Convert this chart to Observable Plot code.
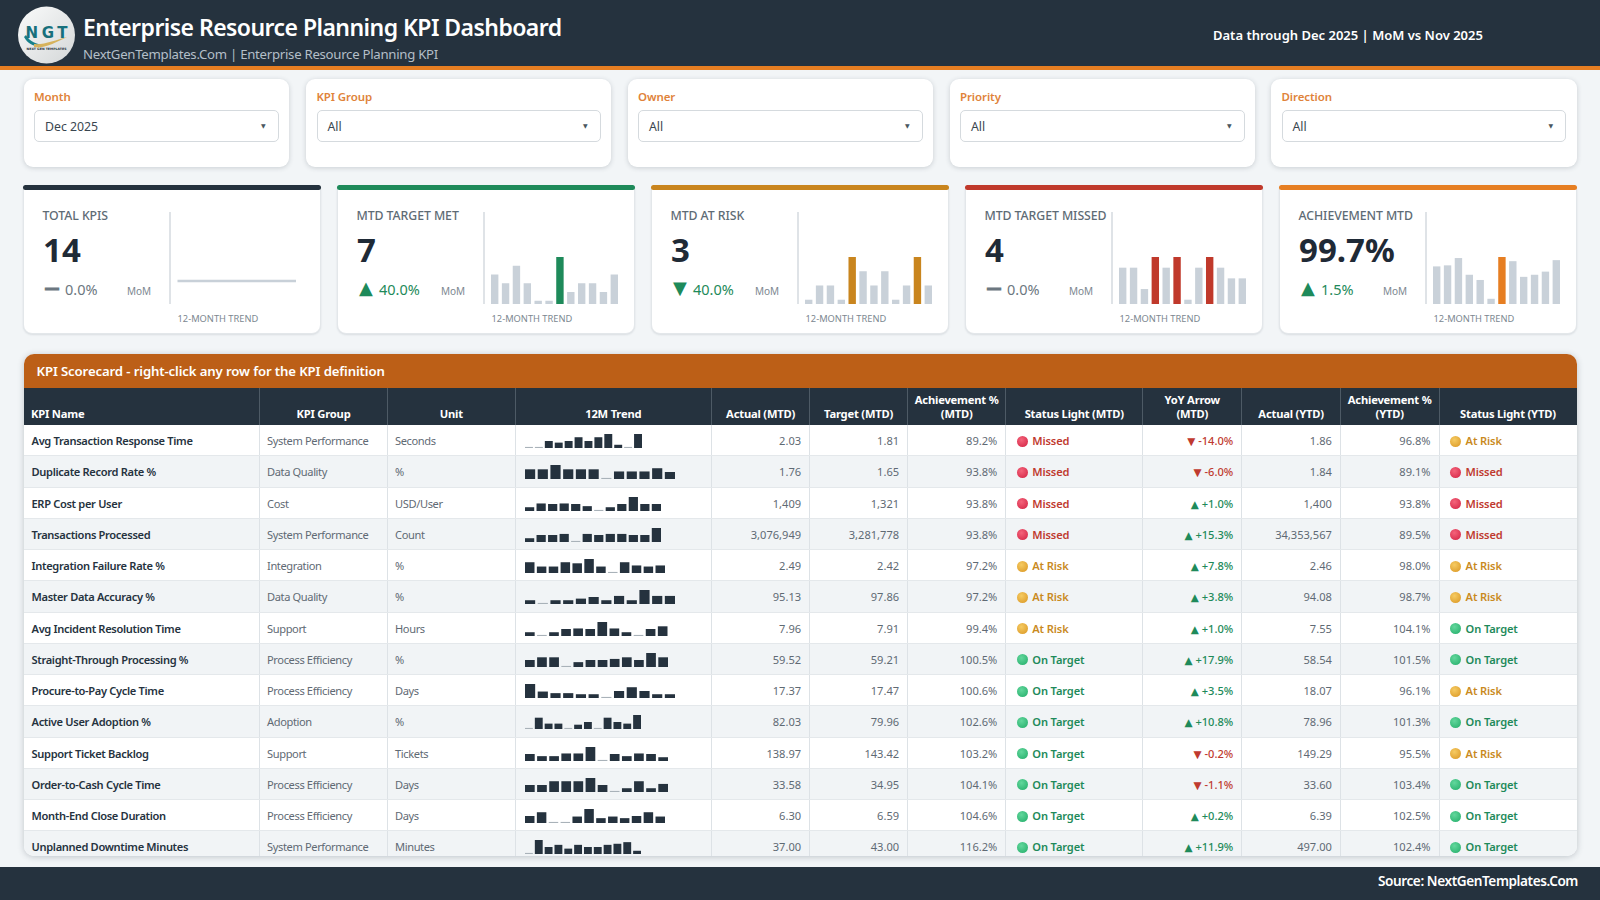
<!DOCTYPE html>
<html lang="en">
<head>
<meta charset="utf-8">
<title>Enterprise Resource Planning KPI Dashboard</title>
<script src="https://cdn.jsdelivr.net/npm/d3@7"></script>
<script src="https://cdn.jsdelivr.net/npm/@observablehq/plot@0.6"></script>
<style>
  * { box-sizing: border-box; }
  html, body { margin: 0; width: 1600px; height: 900px; overflow: hidden; background: #f2f5f7; font-family: "Noto Sans", "DejaVu Sans", sans-serif; color: #25323e; }
  .abs { position: absolute; }
  #header { left: 0; top: 0; width: 1600px; height: 70px; background: #25323e; border-bottom: 4px solid #e67e22; }
  #title { left: 83px; top: 10px; font-size: 23px; letter-spacing: -0.55px; font-weight: 600; color: #fff; white-space: nowrap; line-height: 34px; }
  #subtitle { left: 83px; top: 43.5px; font-size: 13.2px; letter-spacing: -0.27px; color: #b4bfc8; white-space: nowrap; line-height: 20px; }
  #through { left: 1213px; top: 25px; font-size: 13px; font-weight: 600; color: #fff; white-space: nowrap; line-height: 20px; }
  .filter { top: 78.5px; height: 88.5px; background: #fff; border-radius: 9px; box-shadow: 0 1px 5px rgba(40,55,70,.2); }
  .filter .lab { position: absolute; left: 10.5px; top: 10px; font-size: 11.5px; letter-spacing: -0.1px; font-weight: 600; color: #e0833a; line-height: 16px; }
  .filter .sel { position: absolute; left: 10.5px; right: 10.5px; top: 31.5px; height: 32px; border: 1.5px solid #d5dade; border-radius: 5px; font-size: 12.3px; color: #3a4650; line-height: 32px; padding-left: 10px; }
  .filter .sel i { position: absolute; right: 12px; top: 0; font-style: normal; font-size: 6px; color: #4a5660; line-height: 30px; }
  .card { top: 185px; width: 298.4px; height: 149px; background: #fff; border: 1px solid #e3e7ea; border-radius: 5px 5px 9px 9px; box-shadow: 0 1px 2px rgba(40,55,70,.12); }
  .card .bar { position: absolute; left: -1px; right: -1px; top: -1px; height: 5px; border-radius: 3px; }
  .card .lab { position: absolute; left: 18.5px; top: 21px; font-size: 12.3px; letter-spacing: -0.07px; font-weight: 500; color: #5e6b75; line-height: 18px; white-space: nowrap; }
  .card .val { position: absolute; left: 19px; top: 42px; font-size: 33px; font-weight: 700; color: #1f2a36; line-height: 44px; white-space: nowrap; }
  .card .gly { position: absolute; left: 19px; top: 90px; width: 18px; text-align: center; line-height: 24px; font-family: "DejaVu Sans"; }
  .card .dl { position: absolute; left: 41px; top: 91px; font-size: 14.5px; line-height: 24px; white-space: nowrap; }
  .card .mom { position: absolute; left: 103px; top: 97px; font-size: 10px; color: #7c8790; line-height: 16px; }
  .card .div { position: absolute; left: 145px; top: 26px; width: 1.5px; height: 92px; background: #dfe3e7; }
  .card .tr { position: absolute; left: 153.5px; top: 126px; font-size: 9.3px; color: #7c8790; line-height: 14px; white-space: nowrap; }
  .card .ch { position: absolute; left: 152.8px; top: 71px; }
  #tbl { left: 24px; top: 354px; width: 1552.6px; height: 502px; background: #fff; border-radius: 10px; overflow: hidden; box-shadow: 0 1px 6px rgba(40,55,70,.25); }
  #band { position: absolute; left: 0; top: 0; width: 100%; height: 33.5px; background: #bc5f17; color: #fff; font-size: 13.2px; letter-spacing: -0.13px; font-weight: 600; line-height: 34px; padding-left: 12.5px; }
  #thead { position: absolute; left: 0; top: 33.5px; height: 37.5px; display: flex; background: #25323e; width: 100%; }
  #thead div { flex: none; border-right: 1px solid #4d5a65; color: #fff; font-size: 11.2px; letter-spacing: -0.2px; font-weight: 700; text-align: center; line-height: 13.4px; display: flex; align-items: flex-end; justify-content: center; padding: 0 4px 5px; }
  #thead div:first-child { justify-content: flex-start; padding-left: 7px; }
  #thead div:last-child { border-right: 0; }
  #tbody { position: absolute; left: 0; top: 71px; width: 100%; }
  .row { display: flex; height: 31.25px; border-bottom: 1.5px solid #e4e8eb; }
  .row:nth-child(even) { background: #f1f4f6; }
  .row > div { flex: none; border-right: 1px solid #dde2e6; font-size: 11.1px; line-height: 31.5px; white-space: nowrap; padding: 0 7.5px; color: #5f6a74; position: relative; }
  .row > div.g { letter-spacing: -0.38px; padding-left: 7px; }
  .row > div:last-child { border-right: 0; }
  .row .n { font-weight: 600; color: #25323e; letter-spacing: -0.33px; }
  .row .r { text-align: right; padding-right: 8px; }
  .row .s { font-weight: 600; padding-left: 26px; letter-spacing: -0.12px; }
  .row .s svg { position: absolute; left: 9.7px; top: 9.5px; }
  .row .t svg { position: absolute; left: 9.7px; top: 9px; }
  .row .y { text-align: right; font-weight: 500; padding-right: 8px; }
  .row .y span { font-family: "DejaVu Sans"; font-size: 10.5px; }
  #footer { left: 0; top: 867px; width: 1600px; height: 33px; background: #25323e; color: #fff; font-size: 13.6px; letter-spacing: -0.42px; font-weight: 600; text-align: right; padding-right: 22px; line-height: 28px; }
  svg { display: block; }
</style>
</head>
<body>
<svg width="0" height="0" style="position:absolute">
  <defs>
    <radialGradient id="g-missed" cx="40%" cy="35%" r="70%"><stop offset="0%" stop-color="#f4637a"/><stop offset="100%" stop-color="#d92f4e"/></radialGradient>
    <radialGradient id="g-risk" cx="40%" cy="35%" r="70%"><stop offset="0%" stop-color="#f6cb62"/><stop offset="100%" stop-color="#dfa02f"/></radialGradient>
    <radialGradient id="g-target" cx="40%" cy="35%" r="70%"><stop offset="0%" stop-color="#62d79c"/><stop offset="100%" stop-color="#2fb573"/></radialGradient>
  </defs>
</svg>
<div id="header" class="abs"></div>
<svg class="abs" style="left:17px;top:6px" width="59" height="58" viewBox="0 0 59 58">
  <defs><linearGradient id="lg" x1="0" y1="0" x2="1" y2="1"><stop offset="0" stop-color="#fafbfb"/><stop offset="1" stop-color="#d4d7d8"/></linearGradient></defs>
  <circle cx="29.5" cy="29" r="28.5" fill="url(#lg)"/>
  <path d="M7 31 C13 42 24 42 35 37 C26 40 15 39 9 29 Z" fill="#17808a"/>
  <path d="M17 41 C26 43 38 37 50 31 C39 34 27 39 17 38 Z" fill="#d6b25c"/>
  <text x="29.5" y="31.5" text-anchor="middle" font-family="DejaVu Sans" font-weight="700" font-size="15" textLength="42" lengthAdjust="spacing" fill="#17707c">NGT</text>
  <text x="29.5" y="44" text-anchor="middle" font-family="DejaVu Sans" font-weight="700" font-size="3.2" fill="#25323e">NEXT GEN TEMPLATES</text>
</svg>
<div id="title" class="abs">Enterprise Resource Planning KPI Dashboard</div>
<div id="subtitle" class="abs">NextGenTemplates.Com | Enterprise Resource Planning KPI</div>
<div id="through" class="abs">Data through Dec 2025 | MoM vs Nov 2025</div>
<div id="filters"></div>
<div id="cards"></div>
<div id="tbl" class="abs">
  <div id="band">KPI Scorecard - right-click any row for the KPI definition</div>
  <div id="thead"></div>
  <div id="tbody"></div>
</div>
<div id="footer" class="abs">Source: NextGenTemplates.Com</div>
<script>
// ---- filters
const filterLabels = ["Month", "KPI Group", "Owner", "Priority", "Direction"];
const filterValues = ["Dec 2025", "All", "All", "All", "All"];
const filterLeft = [23.5, 306, 627.5, 949.5, 1271];
const filterWidth = [265.5, 305, 305.5, 305.5, 305.5];

// ---- KPI cards
const cardLabels = ["TOTAL KPIS", "MTD TARGET MET", "MTD AT RISK", "MTD TARGET MISSED", "ACHIEVEMENT MTD"];
const cardValues = ["14", "7", "3", "4", "99.7%"];
const cardDeltas = ["0.0%", "40.0%", "40.0%", "0.0%", "1.5%"];
const cardDirs = ["flat", "up", "down", "flat", "up"];
const cardColors = ["#25323e", "#1e8a5a", "#c9851e", "#c0392b", "#e67e22"];
const cardTrendTotal = [14, 14, 14, 14, 14, 14, 14, 14, 14, 14, 14, 14];
const cardTrendMet = [6, 5, 7, 5, 3, 3, 8, 4, 5, 5, 4, 6];
const cardTrendRisk = [1, 2, 2, 1, 4, 3, 2, 3, 1, 2, 4, 2];
const cardTrendMissed = [5, 5, 3, 6, 5, 6, 2, 5, 6, 5, 4, 4];
const cardTrendAch = [99.6, 99.7, 100.4, 98.8, 98.3, 96.5, 100.5, 100.1, 98.6, 98.8, 99.1, 100.2];
const cardBaselines = [13, 2.63, 0.7, 1.6, 96];

// ---- scorecard
const headers = ["KPI Name", "KPI Group", "Unit", "12M Trend", "Actual (MTD)", "Target (MTD)", "Achievement %<br>(MTD)", "Status Light (MTD)", "YoY Arrow<br>(MTD)", "Actual (YTD)", "Achievement %<br>(YTD)", "Status Light (YTD)"];
const colWidths = [236, 128, 127.5, 196.6, 98, 98, 98.2, 137, 99, 98.6, 98.7, 136.7];
const kpiNames = ["Avg Transaction Response Time", "Duplicate Record Rate %", "ERP Cost per User", "Transactions Processed", "Integration Failure Rate %", "Master Data Accuracy %", "Avg Incident Resolution Time", "Straight-Through Processing %", "Procure-to-Pay Cycle Time", "Active User Adoption %", "Support Ticket Backlog", "Order-to-Cash Cycle Time", "Month-End Close Duration", "Unplanned Downtime Minutes"];
const kpiGroups = ["System Performance", "Data Quality", "Cost", "System Performance", "Integration", "Data Quality", "Support", "Process Efficiency", "Process Efficiency", "Adoption", "Support", "Process Efficiency", "Process Efficiency", "System Performance"];
const kpiUnits = ["Seconds", "%", "USD/User", "Count", "%", "%", "Hours", "%", "Days", "%", "Tickets", "Days", "Days", "Minutes"];
const actualMtd = ["2.03", "1.76", "1,409", "3,076,949", "2.49", "95.13", "7.96", "59.52", "17.37", "82.03", "138.97", "33.58", "6.30", "37.00"];
const targetMtd = ["1.81", "1.65", "1,321", "3,281,778", "2.42", "97.86", "7.91", "59.21", "17.47", "79.96", "143.42", "34.95", "6.59", "43.00"];
const achMtd = ["89.2%", "93.8%", "93.8%", "93.8%", "97.2%", "97.2%", "99.4%", "100.5%", "100.6%", "102.6%", "103.2%", "104.1%", "104.6%", "116.2%"];
const statusMtd = ["Missed", "Missed", "Missed", "Missed", "At Risk", "At Risk", "At Risk", "On Target", "On Target", "On Target", "On Target", "On Target", "On Target", "On Target"];
const yoyMtd = ["-14.0%", "-6.0%", "+1.0%", "+15.3%", "+7.8%", "+3.8%", "+1.0%", "+17.9%", "+3.5%", "+10.8%", "-0.2%", "-1.1%", "+0.2%", "+11.9%"];
const actualYtd = ["1.86", "1.84", "1,400", "34,353,567", "2.46", "94.08", "7.55", "58.54", "18.07", "78.96", "149.29", "33.60", "6.39", "497.00"];
const achYtd = ["96.8%", "89.1%", "93.8%", "89.5%", "98.0%", "98.7%", "104.1%", "101.5%", "96.1%", "101.3%", "95.5%", "103.4%", "102.5%", "102.4%"];
const statusYtd = ["At Risk", "Missed", "Missed", "Missed", "At Risk", "At Risk", "On Target", "On Target", "At Risk", "On Target", "At Risk", "On Target", "On Target", "On Target"];
// 12-month trend, read from the row sparklines as an index (row max = 13)
const trends = [
  [1, 1, 6.5, 5, 6.5, 10, 6.5, 10, 13, 3, 1, 13],
  [9, 9, 13, 9, 9, 9, 1, 7, 7, 7, 10, 6.5],
  [3.5, 7, 6.5, 7, 6.5, 4.5, 1, 3.5, 6.5, 13, 6.5, 6.5],
  [3.5, 6.5, 6.5, 7.5, 1, 7.5, 6.5, 7.5, 7.5, 6.5, 6.5, 13],
  [10, 6, 6, 10, 9, 13, 6, 1, 10, 7, 6, 7],
  [3.5, 1, 3.5, 3.5, 5, 6.5, 3.5, 7.5, 3.5, 13, 7.5, 7.5],
  [3.5, 1, 3.5, 6.5, 7, 6.5, 13, 7, 3.5, 1, 6.5, 9],
  [6.5, 9, 9, 1, 4.5, 6.5, 6.5, 7.5, 9, 6.5, 13, 9],
  [13, 6, 4.5, 4.5, 3.5, 3.5, 1, 6.5, 10, 6.5, 3.5, 3.5],
  [1, 10.5, 5, 5, 1, 4, 6.5, 1, 10.5, 6.5, 5, 13],
  [6.5, 4.5, 4.5, 7, 7, 13, 1, 6.5, 4.5, 7, 6.5, 3.5],
  [6.5, 6.5, 10, 10, 10, 13, 6.5, 1, 3.5, 10, 3.5, 7.5],
  [6.5, 10, 1, 1, 6, 13, 4.5, 6, 4.5, 6.5, 10, 6],
  [1, 13, 6.5, 8.5, 5, 8.5, 6.5, 6.5, 8.5, 9.5, 11, 3]
];
const trendWidths = [117, 150, 136, 136, 140, 150, 142.5, 143, 150, 116, 143, 143, 140, 116];

const statusStyle = {
  "Missed": {color: "#bf3a2f", grad: "url(#g-missed)"},
  "At Risk": {color: "#c98a1e", grad: "url(#g-risk)"},
  "On Target": {color: "#1e8a5a", grad: "url(#g-target)"}
};

function cardChart(values, color, lo) {
  const hi = d3.max(values);
  const flat = d3.min(values) === hi;
  const data = values.map((v, i) => ({i, v}));
  if (flat) return Plot.plot({
    width: 118.5, height: 47, margin: 0,
    style: {background: "transparent", overflow: "visible"},
    x: {type: "linear", domain: [0, 11], axis: null},
    y: {domain: [hi - 1, hi + 1], axis: null},
    marks: [Plot.lineY(data, {x: "i", y: "v", stroke: "#c8d0d8", strokeWidth: 2.7, strokeLinecap: "butt"})]
  });
  return Plot.plot({
    width: 127, height: 47, margin: 0,
    style: {background: "transparent", overflow: "visible"},
    x: {type: "band", domain: d3.range(12), paddingInner: 0.32, paddingOuter: 0, round: false, axis: null},
    y: {domain: [lo, hi], axis: null},
    marks: [Plot.barY(data, {x: "i", y1: () => lo, y2: "v", fill: d => d.v === hi ? color : "#c9d1d9"})]
  });
}

function spark(values, width) {
  const data = values.map((v, i) => ({i, v}));
  return Plot.plot({
    width, height: 14, margin: 0,
    style: {background: "transparent", overflow: "visible"},
    x: {type: "band", domain: d3.range(12), paddingInner: 0.2, paddingOuter: 0, round: false, axis: null},
    y: {domain: [0, 13], axis: null},
    marks: [Plot.barY(data, {x: "i", y: "v", fill: d => d.v <= 1 ? "#a9b2b9" : "#25323e"})]
  });
}

function light(status) {
  return Plot.plot({
    width: 12, height: 12, margin: 0,
    style: {background: "transparent", overflow: "visible"},
    x: {domain: [0, 1], axis: null},
    y: {domain: [0, 1], axis: null},
    marks: [Plot.dot([status], {x: () => 0.5, y: () => 0.5, r: 5.5, fill: statusStyle[status].grad})]
  });
}

// filters
const fEl = document.getElementById("filters");
filterLabels.forEach((l, i) => {
  const d = document.createElement("div");
  d.className = "filter abs";
  d.style.left = filterLeft[i] + "px";
  d.style.width = filterWidth[i] + "px";
  d.innerHTML = `<div class="lab">${l}</div><div class="sel">${filterValues[i]}<i>▼</i></div>`;
  fEl.appendChild(d);
});

// cards
const cardTrends = [cardTrendTotal, cardTrendMet, cardTrendRisk, cardTrendMissed, cardTrendAch];
const cEl = document.getElementById("cards");
cardLabels.forEach((l, i) => {
  const d = document.createElement("div");
  d.className = "card abs";
  d.style.left = (23 + i * 314) + "px";
  const dir = cardDirs[i];
  const tone = dir === "flat" ? "#6c7780" : "#1e8a5a";
  const gly = dir === "up" ? "▲" : dir === "down" ? "▼" : "—";
  const gs = dir === "flat" ? "font-size:15px;font-weight:700;-webkit-text-stroke:1px " + tone : "font-size:18px";
  d.innerHTML = `<div class="bar" style="background:${cardColors[i]}"></div>
    <div class="lab">${l}</div><div class="val">${cardValues[i]}</div>
    <div class="gly" style="color:${tone};${gs}">${gly}</div>
    <div class="dl" style="color:${tone}">${cardDeltas[i]}</div>
    <div class="mom">MoM</div><div class="div"></div>
    <div class="ch"></div><div class="tr">12-MONTH TREND</div>`;
  d.querySelector(".ch").appendChild(cardChart(cardTrends[i], cardColors[i], cardBaselines[i]));
  cEl.appendChild(d);
});

// table header
const th = document.getElementById("thead");
headers.forEach((h, i) => {
  const d = document.createElement("div");
  d.style.width = colWidths[i] + "px";
  d.innerHTML = `<span>${h}</span>`;
  th.appendChild(d);
});

// table rows
const tb = document.getElementById("tbody");
kpiNames.forEach((n, i) => {
  const row = document.createElement("div");
  row.className = "row";
  const up = yoyMtd[i][0] === "+";
  const yc = up ? "#1e8a5a" : "#bf3a2f";
  const cells = [
    ["n", n], ["g", kpiGroups[i]], ["g", kpiUnits[i]], ["t", ""],
    ["r", actualMtd[i]], ["r", targetMtd[i]], ["r", achMtd[i]],
    ["s", statusMtd[i]], ["y", `<span>${up ? "▲" : "▼"}</span> ${yoyMtd[i]}`],
    ["r", actualYtd[i]], ["r", achYtd[i]], ["s", statusYtd[i]]
  ];
  cells.forEach(([cls, html], j) => {
    const c = document.createElement("div");
    c.className = cls;
    c.style.width = colWidths[j] + "px";
    c.innerHTML = html;
    if (cls === "s") { c.style.color = statusStyle[html].color; c.appendChild(light(html)); }
    if (cls === "y") c.style.color = yc;
    if (cls === "t") c.appendChild(spark(trends[i], trendWidths[i]));
    row.appendChild(c);
  });
  tb.appendChild(row);
});
</script>
</body>
</html>
